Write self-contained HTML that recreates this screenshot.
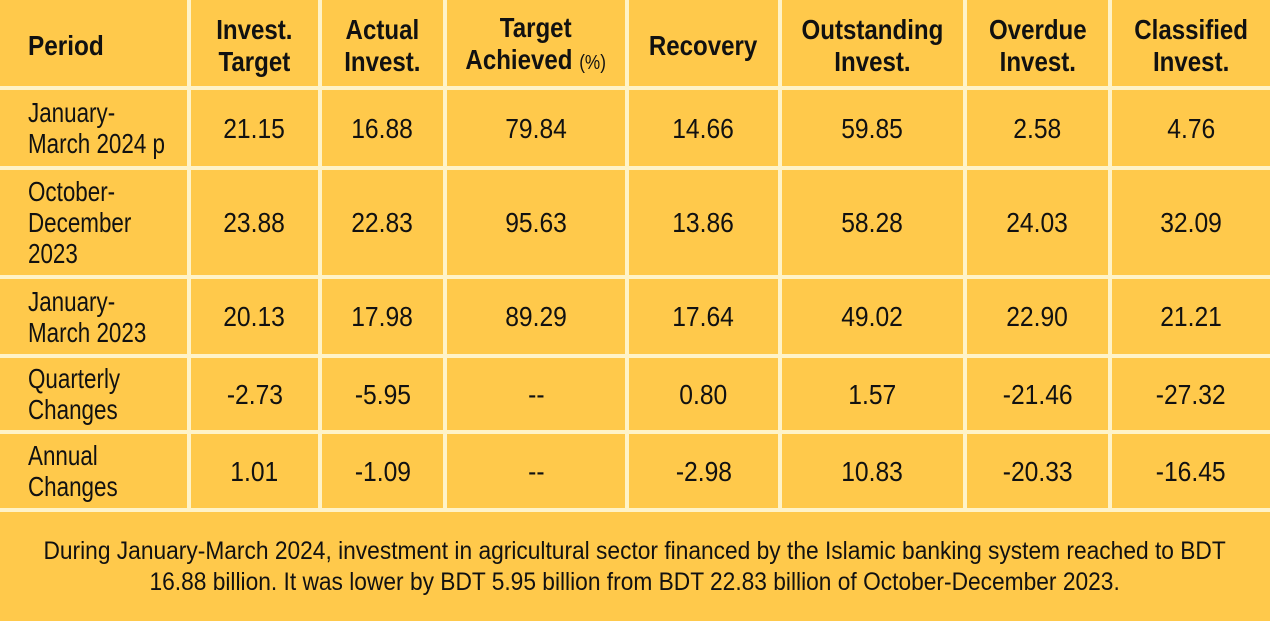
<!DOCTYPE html>
<html><head><meta charset="utf-8"><style>
body{margin:0;width:1270px;height:621px;background:#FFF3C8;position:relative;overflow:hidden;font-family:"Liberation Sans",sans-serif;color:#111}
.c{position:absolute;background:#FFC94B;display:flex;align-items:center;justify-content:center;text-align:center}
.c span{display:inline-block;transform:scaleX(.88);font-size:28px;line-height:31px;white-space:nowrap}
.h span{font-weight:bold;font-size:28px;line-height:32px;padding-top:5px;transform:scaleX(.86)}
.l{justify-content:flex-start;text-align:left}
.l span{transform-origin:left center;margin-left:28px;transform:scaleX(.8)}
.h.l span{transform:scaleX(.87)}
.f span{font-size:25px;line-height:31px;transform:scaleX(.91)}
small{font-weight:normal;font-size:20px}
</style></head><body>
<div id="g"></div>
<script>
const X=[[0,187],[191,318],[322,443],[447,625],[629,778],[782,963],[967,1108],[1112,1270]];
const Y=[[0,86],[90,166],[170,275],[279,354],[358,430],[434,508]];
const D=[
["Period","Invest.<br>Target","Actual<br>Invest.","Target<br>Achieved <small>(%)</small>","Recovery","Outstanding<br>Invest.","Overdue<br>Invest.","Classified<br>Invest."],
["January-<br>March 2024 p","21.15","16.88","79.84","14.66","59.85","2.58","4.76"],
["October-<br>December<br>2023","23.88","22.83","95.63","13.86","58.28","24.03","32.09"],
["January-<br>March 2023","20.13","17.98","89.29","17.64","49.02","22.90","21.21"],
["Quarterly<br>Changes","-2.73","-5.95","--","0.80","1.57","-21.46","-27.32"],
["Annual<br>Changes","1.01","-1.09","--","-2.98","10.83","-20.33","-16.45"]];
let h="";
Y.forEach((y,r)=>X.forEach((x,c)=>{
 h+=`<div class="c${r==0?' h':''}${c==0?' l':''}" style="left:${x[0]}px;width:${x[1]-x[0]}px;top:${y[0]}px;height:${y[1]-y[0]}px"><span>${D[r][c]}</span></div>`;
}));
h+=`<div class="c f" style="left:0;width:1270px;top:512px;height:109px"><span>During January-March 2024, investment in agricultural sector financed by the Islamic banking system reached to BDT<br>16.88 billion. It was lower by BDT 5.95 billion from BDT 22.83 billion of October-December 2023.</span></div>`;
document.getElementById("g").innerHTML=h;
</script>
</body></html>
